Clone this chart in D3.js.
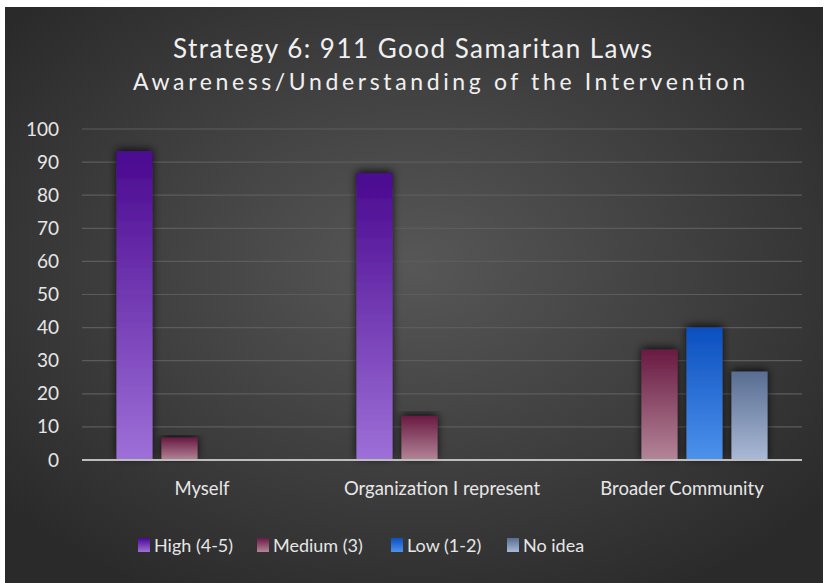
<!DOCTYPE html>
<html>
<head>
<meta charset="utf-8">
<script src="https://cdn.jsdelivr.net/npm/d3@7/dist/d3.min.js"></script>
<style>
  body { margin: 0; background: #fff; }
  text { font-family: Lato, "Open Sans", sans-serif; }
</style>
</head>
<body>
<div id="chart"></div>
<script>
var categories = ['Myself', 'Organization I represent', 'Broader Community'];
var seriesNames = ['High (4-5)', 'Medium (3)', 'Low (1-2)', 'No idea'];
var high = [93.3, 86.7, 0];
var medium = [6.7, 13.3, 33.3];
var low = [0, 0, 40];
var noIdea = [0, 0, 26.7];
var yTicks = [0, 10, 20, 30, 40, 50, 60, 70, 80, 90, 100];

var colors = [
  ['#4a0890', '#9e70d8'],
  ['#6a1a42', '#b38598'],
  ['#0a4fbf', '#4d92ec'],
  ['#586d92', '#aab9d6']
];

var W = 825, H = 583;
var margin = {left: 82, right: 23, top: 129, bottom: 123};

var svg = d3.select('#chart').append('svg')
  .attr('width', W).attr('height', H);

var defs = svg.append('defs');
var bg = defs.append('radialGradient').attr('id', 'bg')
  .attr('cx', '50%').attr('cy', '45%').attr('r', '65%');
bg.append('stop').attr('offset', '0%').attr('stop-color', '#575757');
bg.append('stop').attr('offset', '100%').attr('stop-color', '#2a2a2a');

colors.forEach(function(c, i){
  var g = defs.append('linearGradient').attr('id', 'bar' + i)
    .attr('x1', 0).attr('y1', 0).attr('x2', 0).attr('y2', 1);
  g.append('stop').attr('offset', '0%').attr('stop-color', c[0]);
  g.append('stop').attr('offset', '100%').attr('stop-color', c[1]);
});

var shadow = defs.append('filter').attr('id', 'shadow')
  .attr('x', '-30%').attr('y', '-10%').attr('width', '160%').attr('height', '120%');
shadow.append('feDropShadow').attr('dx', 0).attr('dy', -2).attr('stdDeviation', 4)
  .attr('flood-color', '#000').attr('flood-opacity', 0.8);

svg.append('rect').attr('x', 5).attr('y', 7).attr('width', 818).attr('height', H - 7)
  .attr('fill', 'url(#bg)');

// titles - stretched to the width seen in the picture
svg.append('text').attr('x', 173).attr('y', 58)
  .attr('textLength', 479).attr('lengthAdjust', 'spacing')
  .attr('fill', '#f0f0f0').style('font-size', '26px')
  .text('Strategy 6: 911 Good Samaritan Laws');
svg.append('text').attr('x', 133).attr('y', 90)
  .attr('textLength', 612).attr('lengthAdjust', 'spacing')
  .attr('fill', '#f0f0f0').style('font-size', '23px')
  .text('Awareness/Understanding of the Intervention');

var x0 = d3.scaleBand().domain(categories)
  .range([margin.left, W - margin.right]);
var x1 = d3.scaleBand().domain(seriesNames)
  .range([0, 171]).paddingInner(0.2);

var y = d3.scaleLinear().domain([0, 100])
  .range([H - margin.bottom, margin.top]);

// grid
svg.append('g').selectAll('line').data(yTicks.slice(1)).enter().append('line')
  .attr('x1', margin.left).attr('x2', W - margin.right)
  .attr('y1', function(d){ return y(d); }).attr('y2', function(d){ return y(d); })
  .attr('stroke', '#5c5c5c').attr('stroke-width', 1.2);

// y axis labels
var yAxis = d3.axisLeft(y).tickValues(yTicks).tickSize(0).tickPadding(0);
var ya = svg.append('g').attr('transform', 'translate(' + 59 + ',0)').call(yAxis);
ya.select('.domain').remove();
ya.selectAll('text').attr('fill', '#e6e6e6').style('font-size', '19px')
  .style('font-family', 'Lato, sans-serif');

var data = categories.map(function(c, i){
  return {cat: c, vals: [high[i], medium[i], low[i], noIdea[i]]};
});

var groups = svg.append('g').selectAll('g').data(data).enter().append('g')
  .attr('transform', function(d){
    return 'translate(' + (x0(d.cat) + (x0.bandwidth() - 171) / 2) + ',0)';
  });

groups.selectAll('rect').data(function(d){
  return d.vals.map(function(v, i){ return {v: v, i: i}; }).filter(function(e){ return e.v > 0; });
}).enter().append('rect')
  .attr('x', function(d){ return x1(seriesNames[d.i]); })
  .attr('width', x1.bandwidth())
  .attr('y', function(d){ return y(d.v); })
  .attr('height', function(d){ return y(0) - y(d.v); })
  .attr('fill', function(d){ return 'url(#bar' + d.i + ')'; })
  .attr('filter', 'url(#shadow)');

// baseline
svg.append('line').attr('x1', margin.left).attr('x2', W - margin.right)
  .attr('y1', y(0)).attr('y2', y(0))
  .attr('stroke', '#bdbdbd').attr('stroke-width', 2);

// x labels
var xAxis = d3.axisBottom(x0).tickSize(0).tickPadding(0);
var xa = svg.append('g').attr('transform', 'translate(0,' + 482 + ')').call(xAxis);
xa.select('.domain').remove();
xa.selectAll('text').attr('fill', '#e6e6e6').style('font-size', '18.5px')
  .style('font-family', 'Lato, sans-serif');

// legend
var legX = [138, 257, 391, 507];
var leg = svg.append('g').selectAll('g').data(seriesNames).enter().append('g')
  .attr('transform', function(d, i){ return 'translate(' + legX[i] + ',538)'; });
leg.append('rect').attr('width', 12).attr('height', 14)
  .attr('fill', function(d, i){ return 'url(#bar' + i + ')'; });
leg.append('text').attr('x', 16).attr('y', 14)
  .attr('fill', '#e6e6e6').style('font-size', '18px').text(function(d){ return d; });
</script>
</body>
</html>
